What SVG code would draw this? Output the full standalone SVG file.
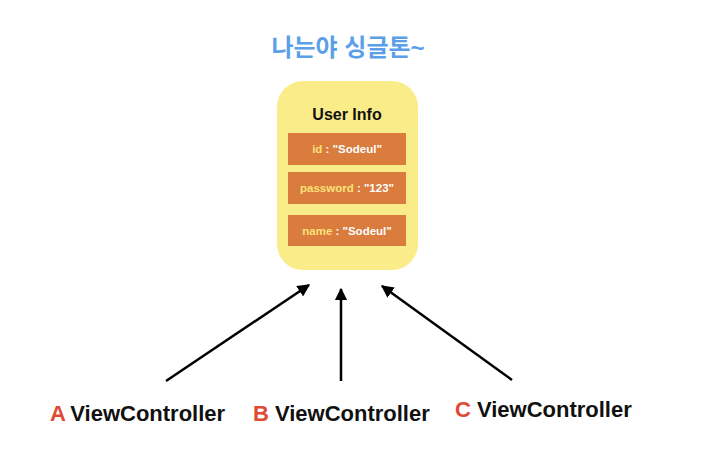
<svg xmlns="http://www.w3.org/2000/svg" width="707" height="460" viewBox="0 0 707 460">
<defs>
<style>
.t{font-family:"Liberation Sans","Noto Sans CJK KR",sans-serif;font-weight:bold}
.row{fill:#D97C3D}
.k{fill:#FBE27A}
.v{fill:#FFFFFF}
.lab{fill:#E04A33}
.vc{fill:#111111}
.conn{stroke:#000;stroke-width:2.5;fill:none;marker-end:url(#ah)}
</style>
<marker id="ah" viewBox="0 0 10 10" refX="9" refY="5" markerWidth="5" markerHeight="5" orient="auto" markerUnits="strokeWidth">
<path d="M0,0 L10,5 L0,10 Z" fill="#000"/>
</marker>
</defs>
<rect width="707" height="460" fill="#fff"/>
<g id="title">
<text class="t" x="348" y="56" font-size="24" text-anchor="middle" fill="#5B9FEA" font-family="'Noto Sans CJK KR',sans-serif">나는야 싱글톤~</text>
</g>
<g id="userinfo">
<rect x="277" y="81" width="141" height="189" rx="26" fill="#FBEC8A"/>
<text class="t" x="347" y="120" font-size="16" text-anchor="middle" fill="#111">User Info</text>
<rect class="row" x="288" y="133" width="118" height="32"/>
<text class="t" x="347" y="153" font-size="11.5" text-anchor="middle"><tspan class="k">id</tspan><tspan class="v"> : "Sodeul"</tspan></text>
<rect class="row" x="288" y="172" width="118" height="32"/>
<text class="t" x="347" y="192" font-size="11.5" text-anchor="middle"><tspan class="k">password</tspan><tspan class="v"> : "123"</tspan></text>
<rect class="row" x="288" y="215" width="118" height="31"/>
<text class="t" x="347" y="235" font-size="11.5" text-anchor="middle"><tspan class="k">name</tspan><tspan class="v"> : "Sodeul"</tspan></text>
</g>
<g id="connectors">
<line class="conn" x1="166" y1="381" x2="309" y2="285"/>
<line class="conn" x1="341" y1="381" x2="341" y2="289"/>
<line class="conn" x1="512" y1="380" x2="382" y2="286"/>
</g>
<g id="vcA">
<text class="t" x="50" y="421" font-size="22"><tspan class="lab">A</tspan><tspan class="vc" dx="6">ViewController</tspan></text>
</g>
<g id="vcB">
<text class="t" x="253" y="421" font-size="22"><tspan class="lab">B</tspan><tspan class="vc" dx="6">ViewController</tspan></text>
</g>
<g id="vcC">
<text class="t" x="455" y="417" font-size="22"><tspan class="lab">C</tspan><tspan class="vc" dx="6">ViewController</tspan></text>
</g>
</svg>
